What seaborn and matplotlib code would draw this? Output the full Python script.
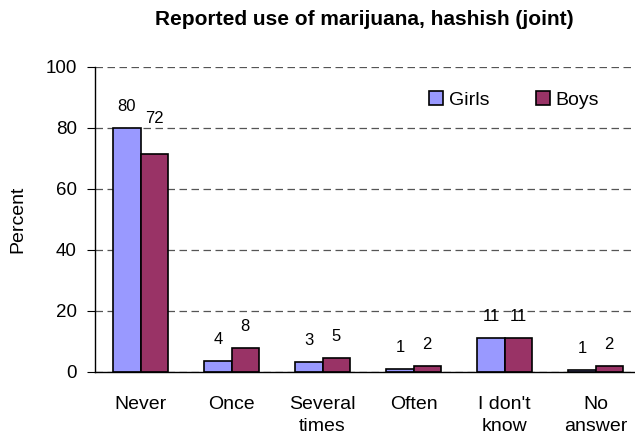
from matplotlib import pyplot as plt
import pandas as pd
import seaborn as sns

# answers and percentages
categories = ['Never', 'Once', 'Several\ntimes', 'Often', "I don't\nknow", 'No\nanswer']
girls = [79.9, 3.6, 3.3, 1.0, 11.1, 0.6]
boys = [71.6, 7.9, 4.6, 2.0, 11.1, 2.0]
girls_labels = ['80', '4', '3', '1', '11', '1']
boys_labels = ['72', '8', '5', '2', '11', '2']

df = pd.DataFrame({
    'Answer': categories * 2,
    'Percent': girls + boys,
    'Group': ['Girls'] * len(categories) + ['Boys'] * len(categories),
})

sns.set_style('white')
plt.rcParams['font.family'] = ['Liberation Sans', 'DejaVu Sans']
plt.rcParams['text.color'] = 'black'
plt.rcParams['axes.labelcolor'] = 'black'
plt.rcParams['xtick.color'] = 'black'
plt.rcParams['ytick.color'] = 'black'

fig = plt.figure(figsize=(6.35, 4.43), dpi=100)
# the plot area runs a little past the right edge of the picture, as in the original
ax = fig.add_axes([0.1496, 0.1603, 0.86, 0.6885])

sns.barplot(data=df, x='Answer', y='Percent', hue='Group',
            palette={'Girls': '#9999FF', 'Boys': '#993366'},
            width=0.6, gap=0, edgecolor='black', linewidth=1.2,
            saturation=1, ax=ax)

texts = []
for cont, labs in zip(ax.containers, [girls_labels, boys_labels]):
    texts.append(ax.bar_label(cont, labels=labs, padding=10, fontsize=12))
# the 72 label sits higher in the original
texts[1][0].xyann = (0, 20)

ax.set_ylim(0, 100)
ax.set_xlim(-0.5, len(categories) - 0.5)
ax.set_yticks(range(0, 101, 20))
ax.yaxis.grid(True, linestyle=(0, (6, 3.6)), color='#555555', linewidth=0.9)
ax.set_axisbelow(True)

# tick marks between the categories, labels at the centres
ax.set_xticks([i - 0.5 for i in range(len(categories) + 1)], minor=True)
ax.tick_params(axis='x', which='major', length=0, pad=17, labelsize=14)
ax.tick_params(axis='x', which='minor', length=5, direction='out', width=1)
ax.tick_params(axis='y', length=6, direction='out', labelsize=13.5, left=True, pad=7)
for lab in ax.get_xticklabels():
    lab.set_linespacing(1.45)

for s in ['top', 'right']:
    ax.spines[s].set_visible(False)
for s in ['left', 'bottom']:
    ax.spines[s].set_color('black')
    ax.spines[s].set_linewidth(1)

ax.set_xlabel('')
ax.set_ylabel('')
fig.text(17.5 / 635, 1 - 219 / 443, 'Percent', rotation=90, ha='center',
         va='center', fontsize=14)
fig.text(364 / 635, 1 - 25 / 443, 'Reported use of marijuana, hashish (joint)',
         ha='center', va='baseline', fontsize=15, fontweight='bold')

ax.legend(loc='upper left', bbox_to_anchor=(429 / 635, 1 - 91 / 443),
          bbox_transform=fig.transFigure, ncol=2, frameon=False,
          fontsize=14, borderpad=0, borderaxespad=0, handlelength=0.72,
          handleheight=0.72, handletextpad=0.3, columnspacing=2.4)

fig.savefig('out.png', dpi=100)
